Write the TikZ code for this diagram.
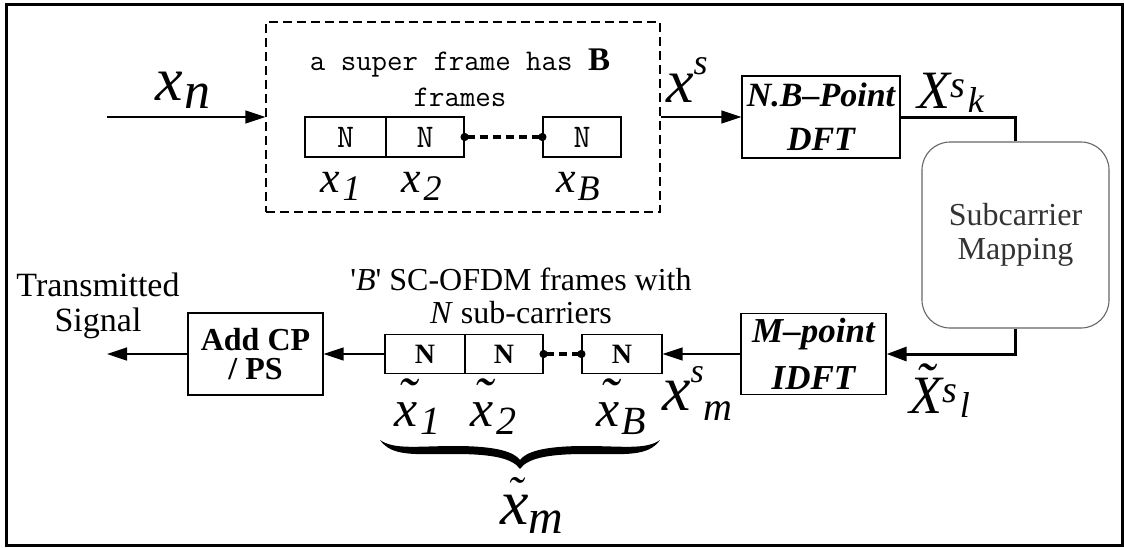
\documentclass[tikz,border=0pt]{standalone}
\usepackage{fontspec}
\setmainfont{Liberation Serif}
\usetikzlibrary{arrows.meta}
\newcommand\fs[1]{\fontsize{#1}{#1}\selectfont}
\newcommand\tld[3]{\makebox[0pt][l]{\hspace{#1}\raisebox{#2}{\fs{#3}\char"02DC}}}
\begin{document}
\begin{tikzpicture}[x=1pt,y=-1pt,
  cell/.style={draw, line width=1.2pt, minimum height=40pt, inner sep=0pt},
  blk/.style={draw, line width=1.2pt, inner sep=0pt, align=center},
  conn/.style={line width=1.3pt, -{Triangle[length=20pt,width=13pt]}},
  heavy/.style={line width=3pt},
  heavyarrow/.style={line width=3pt, -{Triangle[length=20pt,width=14pt]}},
  dotline/.style={line width=3.5pt, dash pattern=on 8pt off 5pt,
     {Circle[length=8pt]}-{Circle[length=8pt]}, shorten <=-4pt, shorten >=-4pt},
  lbl/.style={inner sep=0pt, anchor=base west, font=\itshape},
  txt/.style={inner sep=0pt, align=center}
]
\useasboundingbox (0,0) rectangle (1124,547);
\draw[line width=3pt] (6.5,4.5) rectangle (1122.5,545);

% upper part
\node[draw, dash pattern=on 9pt off 5pt, line width=1.2pt, minimum width=394pt, minimum height=190pt, inner sep=0pt] (super) at (463,117) {};
\node[txt, font=\ttfamily\fs{30}, align=center] (stext) at (460,78)
  {a super frame has {\rmfamily\bfseries\fs{33}B}\\[6pt]frames};
\node[cell, minimum width=81pt, font=\ttfamily\fs{33}] (b1) at (345.5,137) {N};
\node[cell, minimum width=78pt, font=\ttfamily\fs{33}] (b2) at (425,137) {N};
\node[cell, minimum width=78pt, font=\ttfamily\fs{33}] (b3) at (582,137) {N};
\draw[dotline] (b2.east) -- (b3.west);

\node[lbl] (lx1) at (320,192) {\fs{44}x\hspace{3pt}\raisebox{-8pt}{\fs{36}1}};
\node[lbl] (lx2) at (401,192) {\fs{44}x\hspace{3pt}\raisebox{-8pt}{\fs{36}2}};
\node[lbl] (lxB) at (556,192) {\fs{44}x\hspace{2pt}\raisebox{-8pt}{\fs{36}B}};

\coordinate (in) at (107,117);
\draw[conn] (in) -- (super.west);
\node[lbl] (lxn) at (155,100) {\fs{62}x\hspace{2pt}\raisebox{-8pt}{\fs{52}n}};

\node[blk, minimum width=158pt, minimum height=82pt, font=\bfseries\itshape\fs{34}] (dft) at (821,117)
  {N.B–Point\\[10pt]DFT};
\draw[conn] (super.east) -- (dft.west);
\node[lbl] (lxs) at (666,102) {\fs{62}x\raisebox{28pt}{\fs{36}s}};

\node[draw=black!60, line width=1.1pt, rounded corners=28pt, minimum width=187pt, minimum height=186pt,
  inner sep=0pt, align=center, text=black!80, font=\fs{32}] (map) at (1015.5,235)
  {Subcarrier\\[2pt]Mapping};
\draw[heavy] (dft.east) -| (map.north);
\node[lbl] (lXk) at (917,108) {\fs{54}X\raisebox{11pt}{\fs{38}s}\hspace{3pt}\raisebox{-4pt}{\fs{36}k}};

% lower part
\node[blk, minimum width=145pt, minimum height=81pt, font=\bfseries\itshape\fs{35}] (idft) at (813.5,354)
  {M–point\\[12pt]IDFT};
\draw[heavyarrow] (map.south) |- (idft.east);
\node[lbl] (lXl) at (909,413) {\tld{6pt}{12pt}{56}\fs{54}X\raisebox{11pt}{\fs{38}s}\hspace{3pt}\raisebox{-4pt}{\fs{36}l}};

\node[cell, minimum height=39pt, minimum width=80pt, font=\bfseries\fs{28}] (c1) at (425,354) {N};
\node[cell, minimum height=39pt, minimum width=78pt, font=\bfseries\fs{28}] (c2) at (504,354) {N};
\node[cell, minimum height=39pt, minimum width=80pt, font=\bfseries\fs{28}] (c3) at (622,354) {N};
\draw[dotline] (c2.east) -- (c3.west);
\draw[conn] (idft.west) -- (c3.east);
\node[lbl] (lxm) at (662,410) {\fs{64}x\raisebox{28pt}{\fs{34}s}\raisebox{-10pt}{\fs{40}m}};

\node[txt, font=\fs{32}] (sctext) at (521,296)
  {\textquotesingle\textit{B}\textquotesingle{} SC-OFDM frames with\\[1pt]\textit{N} sub-carriers};

\node[lbl] (lt1) at (394,426) {\tld{3pt}{10pt}{56}\fs{52}x\hspace{3pt}\raisebox{-8pt}{\fs{40}1}};
\node[lbl] (lt2) at (470,426) {\tld{3pt}{10pt}{56}\fs{52}x\hspace{3pt}\raisebox{-8pt}{\fs{40}2}};
\node[lbl] (ltB) at (596,426) {\tld{3pt}{10pt}{56}\fs{52}x\hspace{2pt}\raisebox{-8pt}{\fs{40}B}};

\node[blk, minimum width=135pt, minimum height=82pt, font=\bfseries\fs{32}] (add) at (255.5,354)
  {Add CP\\[-3pt]/ PS};
\draw[conn] (c1.west) -- (add.east);
\coordinate (out) at (107,354);
\draw[conn] (add.west) -- (out);
\node[txt, font=\fs{34}] (tx) at (98,306) {Transmitted\\[1pt]Signal};

% brace
\fill (380,440) .. controls (392,457) and (415,454) .. (455,454)
  .. controls (495,454) and (513,459) .. (520,469)
  .. controls (527,459) and (545,454) .. (585,454)
  .. controls (625,454) and (648,457) .. (660,440)
  .. controls (646,450) and (622,446) .. (585,446)
  .. controls (543,446) and (526,452) .. (520,460)
  .. controls (514,452) and (497,446) .. (455,446)
  .. controls (418,446) and (394,450) .. (380,440) -- cycle;
\node[lbl] (ltm) at (500,524) {\tld{7pt}{16pt}{46}\fs{64}x\raisebox{-9pt}{\fs{48}m}};
\end{tikzpicture}
\end{document}
